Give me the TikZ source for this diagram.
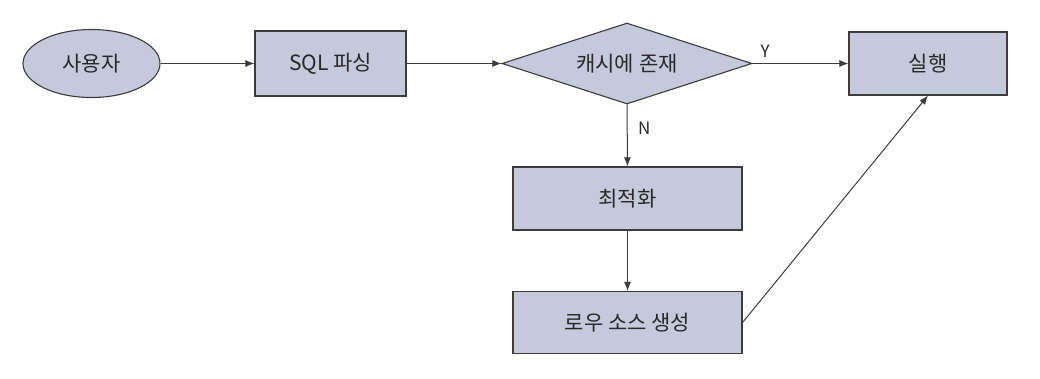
\documentclass[tikz,border=0pt]{standalone}
\usepackage{fontspec}
\setmainfont{Noto Sans CJK KR}
\usetikzlibrary{shapes.geometric,arrows.meta}
\definecolor{boxfill}{RGB}{196,201,220}
\definecolor{boxline}{RGB}{60,60,60}
\definecolor{txt}{RGB}{40,40,40}
\tikzset{
  fbase/.style={draw=boxline, line width=1.1pt, fill=boxfill, text=txt, inner sep=0pt, font=\fontsize{21}{25}\selectfont},
  procbox/.style={fbase, rectangle, minimum height=64pt},
  conn/.style={draw=boxline, line width=1pt, -{Latex[length=9pt,width=7pt]}},
  lbl/.style={text=txt, font=\fontsize{17}{20}\selectfont}
}
\begin{document}
\begin{tikzpicture}[x=1pt,y=-1pt]
\useasboundingbox (0,0) rectangle (1040,378);
\fill[white] (0,0) rectangle (1040,378);
\node[fbase, ellipse, minimum width=137pt, minimum height=68pt] (user) at (91.5,63.5) {사용자};
\node[procbox, minimum width=151pt, minimum height=65pt] (parse) at (330.5,63.5) {SQL 파싱};
\node[fbase, diamond, aspect=3.08, minimum width=250pt, minimum height=81pt] (cache) at (627,63.5) {캐시에 존재};
\node[procbox, minimum width=158pt, minimum height=63pt] (exec) at (928,63.5) {실행};
\node[procbox, minimum width=229pt, minimum height=63pt] (opt) at (627.5,198.5) {최적화};
\node[procbox, minimum width=229pt, minimum height=62pt] (row) at (627.5,322.5) {로우 소스 생성};
\draw[conn] (user.east) -- (parse.west);
\draw[conn] (parse.east) -- (cache.west);
\draw[conn] (cache.east) -- node[lbl, pos=0.13, above=2pt] {Y} (exec.west);
\draw[conn] (cache.south) -- node[lbl, pos=0.38, right=7pt] {N} (opt.north);
\draw[conn] (opt.south) -- (row.north);
\draw[conn] (row.east) -- (exec.south);
\end{tikzpicture}
\end{document}
